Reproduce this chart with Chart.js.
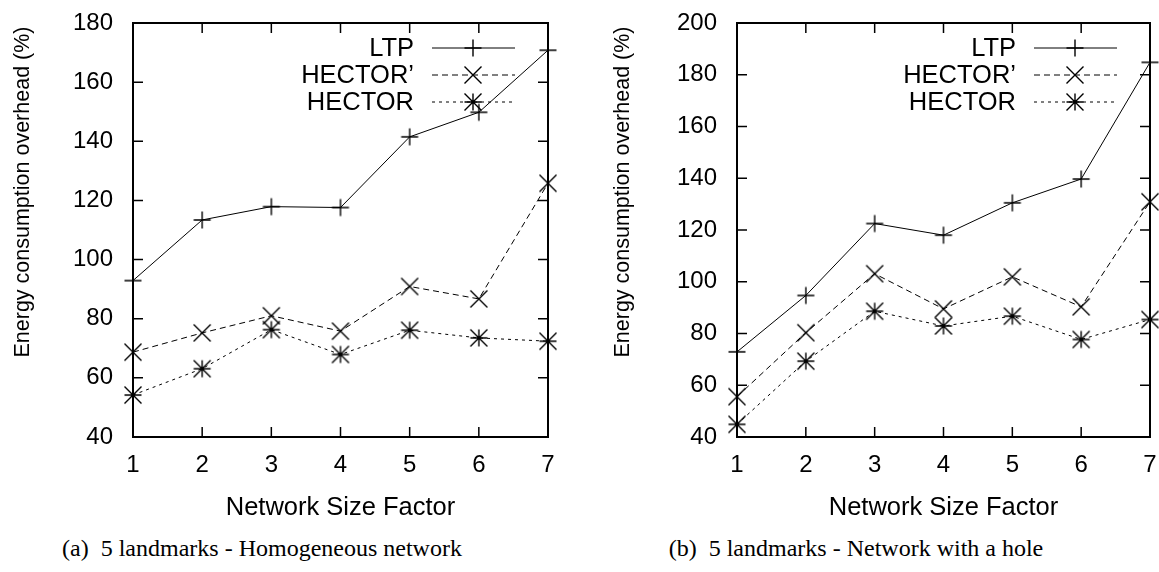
<!DOCTYPE html>
<html>
<head>
<meta charset="utf-8">
<script src="https://cdn.jsdelivr.net/npm/chart.js@4"></script>
<style>
  body { margin: 0; background: #fff; }
  #page { position: relative; width: 1159px; height: 572px; overflow: hidden; }
  .box { position: absolute; top: 0; }
  .cap { position: absolute; top: 534px; font: 24px "Liberation Serif", serif; line-height: 28px;
         text-align: center; white-space: pre; color: #000; }
</style>
</head>
<body>
<div id="page">
  <div class="box" style="left:0"><canvas id="chartA" width="580" height="530"></canvas></div>
  <div class="box" style="left:600px"><canvas id="chartB" width="559" height="530"></canvas></div>
  <div class="cap" style="left:0;width:524px">(a)  5 landmarks - Homogeneous network</div>
  <div class="cap" style="left:600px;width:512px">(b)  5 landmarks - Network with a hole</div>
</div>
<script>
// network size factor on the x axis
const sizeFactors = ['1', '2', '3', '4', '5', '6', '7'];

// (a) homogeneous network
const ltpA         = [92.9, 113.4, 117.9, 117.6, 141.5, 149.8, 170.8];
const hectorPrimeA = [68.7, 75.2, 81.0, 75.8, 90.9, 86.7, 125.8];
const hectorA      = [54.2, 63.1, 76.3, 67.9, 76.1, 73.5, 72.4];

// (b) network with a hole
const ltpB         = [72.9, 94.7, 122.5, 118.0, 130.5, 139.7, 184.8];
const hectorPrimeB = [55.6, 80.3, 103.1, 89.5, 101.9, 90.3, 130.9];
const hectorB      = [44.9, 69.3, 88.6, 82.9, 86.7, 77.7, 85.4];

const yRangeA = [40, 180];
const yRangeB = [40, 200];

const seriesNames = ['LTP', 'HECTOR\u2019', 'HECTOR'];
const yTitle = 'Energy consumption overhead (%)';
const fontFamily = '"Liberation Sans", Arial, sans-serif';

function marker(kind) {
  const s = 8.5;
  const c = document.createElement('canvas');
  c.width = 20; c.height = 20;
  const g = c.getContext('2d');
  g.strokeStyle = '#000';
  g.lineWidth = 1.4;
  g.beginPath();
  if (kind !== 'x') {
    g.moveTo(10 - s, 10); g.lineTo(10 + s, 10);
    g.moveTo(10, 10 - s); g.lineTo(10, 10 + s);
  }
  if (kind !== '+') {
    g.moveTo(10 - s, 10 - s); g.lineTo(10 + s, 10 + s);
    g.moveTo(10 - s, 10 + s); g.lineTo(10 + s, 10 - s);
  }
  g.stroke();
  return c;
}

const markers = [marker('+'), marker('x'), marker('*')];
const dashes = [[], [6, 4], [3, 4]];

// gnuplot style box with inward ticks on all four sides, plus the y title
const framePlugin = {
  id: 'frame',
  beforeDatasetsDraw(chart) {
    const {ctx, chartArea: a, scales: {x, y}} = chart;
    const tl = 10;
    ctx.save();
    ctx.strokeStyle = '#000';
    ctx.lineWidth = 1.5;
    ctx.beginPath();
    x.ticks.forEach((t, i) => {
      const px = x.getPixelForTick(i);
      ctx.moveTo(px, a.bottom); ctx.lineTo(px, a.bottom - tl);
      ctx.moveTo(px, a.top); ctx.lineTo(px, a.top + tl);
    });
    y.ticks.forEach((t) => {
      const py = y.getPixelForValue(t.value);
      ctx.moveTo(a.left, py); ctx.lineTo(a.left + tl, py);
      ctx.moveTo(a.right, py); ctx.lineTo(a.right - tl, py);
    });
    ctx.stroke();
    ctx.lineWidth = 2;
    ctx.strokeRect(a.left, a.top, a.right - a.left, a.bottom - a.top);

    ctx.translate(23, 192);
    ctx.rotate(-Math.PI / 2);
    ctx.font = '21.5px ' + fontFamily;
    ctx.fillStyle = '#000';
    ctx.textAlign = 'center';
    ctx.textBaseline = 'middle';
    ctx.fillText(yTitle, 0, 0);
    ctx.restore();
  }
};

// key in the top right corner, text left of the sample
const keyPlugin = {
  id: 'key',
  afterDatasetsDraw(chart) {
    const {ctx, chartArea: a} = chart;
    ctx.save();
    ctx.font = '25.5px ' + fontFamily;
    ctx.textAlign = 'right';
    ctx.textBaseline = 'middle';
    chart.data.datasets.forEach((ds, i) => {
      const yy = a.top + 25 + i * 27;
      ctx.fillStyle = '#000';
      ctx.fillText(ds.label, a.right - 134, yy + 1);
      ctx.strokeStyle = ds.borderColor;
      ctx.lineWidth = ds.borderWidth;
      ctx.setLineDash(ds.borderDash);
      ctx.beginPath();
      ctx.moveTo(a.right - 116, yy);
      ctx.lineTo(a.right - 33, yy);
      ctx.stroke();
      ctx.setLineDash([]);
      const m = ds.pointStyle;
      ctx.drawImage(m, a.right - 75 - m.width / 2, yy - m.height / 2);
    });
    ctx.restore();
  }
};

function makeChart(id, values, yRange, yWidth, padRight) {
  const font = {family: fontFamily, size: 24};
  new Chart(document.getElementById(id), {
    type: 'line',
    data: {
      labels: sizeFactors,
      datasets: values.map((v, i) => ({
        label: seriesNames[i],
        data: v,
        borderColor: '#000',
        borderWidth: 1,
        borderDash: dashes[i],
        pointStyle: markers[i],
        pointRadius: 8,
        tension: 0,
        clip: false,
      })),
    },
    options: {
      responsive: false,
      animation: false,
      events: [],
      layout: {padding: {top: 23, right: padRight, left: 0, bottom: 0}},
      plugins: {legend: {display: false}, tooltip: {enabled: false}},
      scales: {
        x: {
          offset: false,
          grid: {display: false, drawTicks: false},
          border: {display: false},
          ticks: {color: '#000', font: font, padding: 14, maxRotation: 0, autoSkip: false},
          title: {display: true, text: 'Network Size Factor', color: '#000',
                  font: {family: fontFamily, size: 25.5}, padding: {top: 0, bottom: 7}},
          afterFit: (s) => { s.height = 93; s.paddingLeft = 0; s.paddingRight = 0; },
        },
        y: {
          min: yRange[0],
          max: yRange[1],
          grid: {display: false, drawTicks: false},
          border: {display: false},
          ticks: {stepSize: 20, color: '#000', font: font, padding: 20},
          afterFit: (s) => { s.width = yWidth; s.paddingTop = 0; s.paddingBottom = 0; },
        },
      },
    },
    plugins: [framePlugin, keyPlugin],
  });
}

makeChart('chartA', [ltpA, hectorPrimeA, hectorA], yRangeA, 133, 32);
makeChart('chartB', [ltpB, hectorPrimeB, hectorB], yRangeB, 137, 8);
</script>
</body>
</html>
